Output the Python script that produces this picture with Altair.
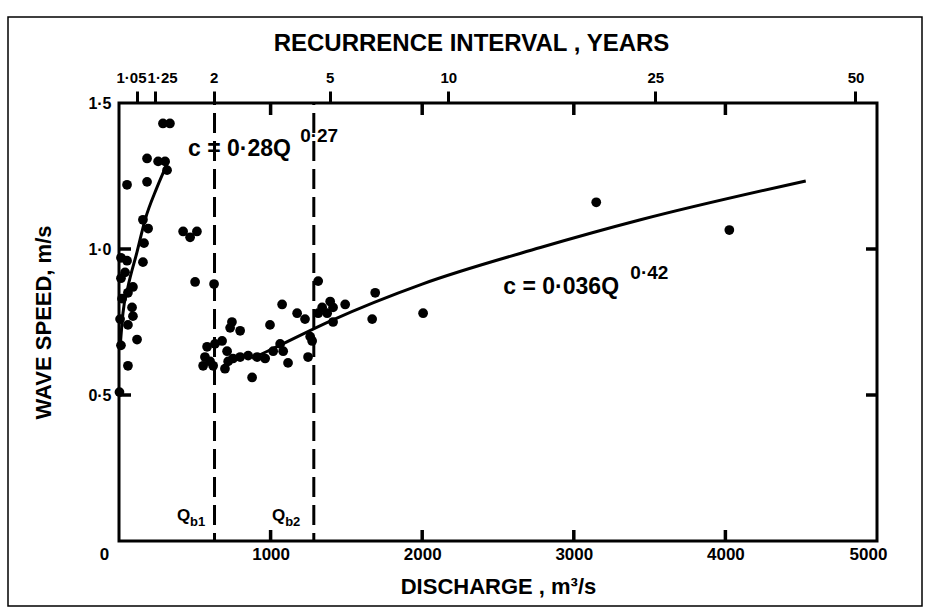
import altair as alt
import pandas as pd

# ---- data ----
discharge = [290, 336, 185, 258, 304, 317, 53, 185, 158, 192, 165, 158, 53, 40, 92, 59, 86, 92, 59, 119, 59,
             13, 20, 7, 13, 3, 13,
             423, 514, 469, 502, 627, 1314, 1690, 1076, 1393, 1412, 1340, 1314, 1373, 1492, 1175, 1227, 1412,
             1670, 2006, 745, 733, 799, 996, 1261, 1274, 1247, 680, 633, 581, 567, 601, 555, 621, 713, 720, 699,
             752, 799, 852, 911, 964, 878, 1063, 1083, 1115, 1017,
             3148, 4026]
speed = [1.43, 1.43, 1.31, 1.30, 1.30, 1.27, 1.22, 1.23, 1.10, 1.07, 1.02, 0.955, 0.96, 0.92, 0.87, 0.85, 0.80, 0.77, 0.74, 0.69, 0.60,
         0.90, 0.83, 0.76, 0.67, 0.51, 0.97,
         1.06, 1.06, 1.04, 0.887, 0.88, 0.89, 0.85, 0.81, 0.82, 0.80, 0.80, 0.78, 0.78, 0.81, 0.78, 0.76, 0.75,
         0.76, 0.78, 0.75, 0.73, 0.72, 0.74, 0.70, 0.685, 0.63, 0.685, 0.675, 0.665, 0.63, 0.615, 0.60, 0.60, 0.65, 0.615, 0.59,
         0.625, 0.63, 0.635, 0.63, 0.625, 0.56, 0.675, 0.65, 0.61, 0.65,
         1.16, 1.065]

fit1_q = [7, 26, 59, 119, 172, 250, 325]
fit1_c = [0.66, 0.78, 0.87, 0.99, 1.10, 1.21, 1.30]
fit2_q = [878, 1000, 1400, 2000, 2780, 3440, 4530]
fit2_c = [0.625, 0.655, 0.755, 0.88, 1.005, 1.10, 1.233]

ri_labels = ["1·05", "1·25", "2", "5", "10", "25", "50"]
ri_q = [119, 238, 625, 1389, 2172, 3538, 4858]

qb_q = [630, 1285]
x_ticks = [0, 1000, 2000, 3000, 4000, 5000]
inner_x_ticks = [1000, 2000, 3000, 4000]
y_ticks = [0.5, 1.0, 1.5]
inner_y_ticks = [0.5, 1.0]

# ---- layout ----
W, H = 758, 438
FONT = "Liberation Sans"
INK = "#000000"
xs = alt.Scale(domain=[0, 5000], nice=False, zero=False)
ys = alt.Scale(domain=[0, 1.5], nice=False, zero=False)

pts = pd.DataFrame({"q": discharge, "c": speed})
f1 = pd.DataFrame({"q": fit1_q, "c": fit1_c})
f2 = pd.DataFrame({"q": fit2_q, "c": fit2_c})
ri = pd.DataFrame({"q": ri_q, "lab": ri_labels})
qb = pd.DataFrame({"q": qb_q})
ixt = pd.DataFrame({"v": inner_x_ticks})
iyt = pd.DataFrame({"v": inner_y_ticks})

points = alt.Chart(pts).mark_circle(size=95, color=INK, opacity=1).encode(
    x=alt.X("q:Q", scale=xs, axis=alt.Axis(
        values=x_ticks, format="d", ticks=False, tickSize=0, domain=False, grid=False,
        labelFlush=False,
        labelOffset={"condition": [{"test": "datum.value == 0", "value": -15},
                                   {"test": "datum.value == 5000", "value": -9}], "value": 0},
        labelFont=FONT, labelFontSize=17, labelFontWeight="bold", labelColor=INK, labelPadding=5,
        title="DISCHARGE , m³/s", titleFont=FONT, titleFontSize=22, titleFontWeight="bold",
        titleColor=INK, titlePadding=14)),
    y=alt.Y("c:Q", scale=ys, axis=alt.Axis(
        values=y_ticks, labelExpr="replace(format(datum.value,'.1f'),'.','·')",
        ticks=False, tickSize=0, domain=False, grid=False,
        labelFont=FONT, labelFontSize=16, labelFontWeight="bold", labelColor=INK, labelPadding=8,
        title="WAVE  SPEED,  m/s", titleFont=FONT, titleFontSize=22, titleFontWeight="bold",
        titleColor=INK, titlePadding=32)),
)

def line_layer(df):
    return alt.Chart(df).mark_line(color=INK, strokeWidth=3, interpolate="monotone").encode(
        x=alt.X("q:Q", scale=xs, axis=None), y=alt.Y("c:Q", scale=ys, axis=None))

lab_expr = " : ".join(f"datum.value == {q} ? '{l}'" for q, l in zip(ri_q, ri_labels)) + " : ''"
top_axis = alt.Chart(ri).mark_point(opacity=0).encode(
    x=alt.X("q:Q", scale=xs, axis=alt.Axis(
        orient="top", values=ri_q, labelExpr=lab_expr, labelOverlap=False, labelBound=False,
        labelFlush=False,
        labelOffset={"condition": [{"test": f"datum.value == {ri_q[0]}", "value": -6},
                                   {"test": f"datum.value == {ri_q[1]}", "value": 7}], "value": 0},
        ticks=True, tickSize=12, tickWidth=3, tickColor=INK, tickOpacity=1, domain=False, grid=False,
        labelFont=FONT, labelFontSize=15, labelFontWeight="bold", labelColor=INK, labelPadding=6,
        title="RECURRENCE  INTERVAL , YEARS", titleFont=FONT, titleFontSize=24, titleFontWeight="bold",
        titleColor=INK, titlePadding=15, titleX=352, titleAlign="center")),
)

dashed = alt.Chart(qb).mark_rule(color=INK, strokeWidth=3, strokeDash=[20, 8],
                                 strokeDashOffset=18).encode(
    x=alt.X("q:Q", scale=xs, axis=None))

tick_b = alt.Chart(ixt).mark_rule(color=INK, strokeWidth=3.5, opacity=1).encode(
    x=alt.X("v:Q", scale=xs, axis=None), y=alt.value(H), y2=alt.value(H - 11))
tick_t = alt.Chart(ixt).mark_rule(color=INK, strokeWidth=3.5, opacity=1).encode(
    x=alt.X("v:Q", scale=xs, axis=None), y=alt.value(1), y2=alt.value(12))
tick_l = alt.Chart(iyt).mark_rule(color=INK, strokeWidth=3.5, opacity=1).encode(
    y=alt.Y("v:Q", scale=ys, axis=None), x=alt.value(1), x2=alt.value(12))
tick_r = alt.Chart(iyt).mark_rule(color=INK, strokeWidth=3.5, opacity=1).encode(
    y=alt.Y("v:Q", scale=ys, axis=None), x=alt.value(W), x2=alt.value(W - 11))

frame = alt.Chart(alt.Data(values=[{}])).mark_rect(
    fill="transparent", stroke=INK, strokeWidth=1.5, clip=False).encode(
    x=alt.value(-111), x2=alt.value(803), y=alt.value(-86), y2=alt.value(503))

def note(txt, q, c, size):
    return alt.Chart(alt.Data(values=[{}])).mark_text(
        text=txt, align="left", baseline="alphabetic", font=FONT, fontSize=size,
        fontWeight="bold", color=INK).encode(
        x=alt.XDatum(q, type="quantitative", scale=xs, axis=None),
        y=alt.YDatum(c, type="quantitative", scale=ys, axis=None))

notes = [
    note("c = 0·28Q", 455, 1.318, 23),
    note("0·27", 1195, 1.366, 19),
    note("c = 0·036Q", 2535, 0.846, 23),
    note("0·42", 3373, 0.897, 19),
    note("Q", 383, 0.068, 17),
    note("b1", 469, 0.050, 13),
    note("Q", 1010, 0.068, 17),
    note("b2", 1096, 0.050, 13),
]

chart = alt.layer(
    frame, dashed, line_layer(f1), line_layer(f2), points, top_axis,
    tick_b, tick_t, tick_l, tick_r, *notes
).resolve_scale(x="shared", y="shared").resolve_axis(x="independent", y="independent").properties(
    width=W, height=H,
    padding={"left": 119, "top": 103, "right": 930 - 119 - W, "bottom": 613 - 103 - H},
    autosize=alt.AutoSizeParams(type="none"),
    background="white",
).configure_view(stroke=INK, strokeWidth=3)

chart.save("out.html", embed_options={"renderer": "svg", "actions": False})
